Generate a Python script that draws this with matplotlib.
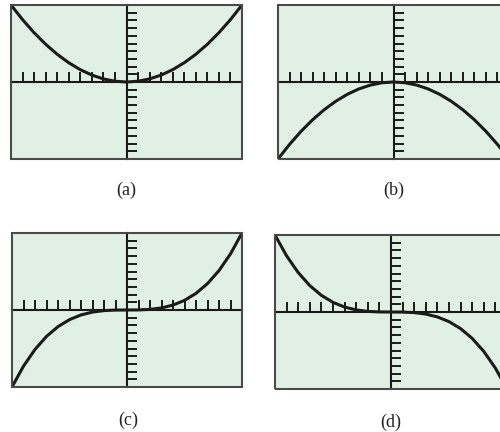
import matplotlib
matplotlib.use("Agg")
import matplotlib.pyplot as plt
from matplotlib.patches import Rectangle

# data (calculator window x, y in [-10, 10])
x_vals = [-10, -9, -8, -7, -6, -5, -4, -3, -2, -1, 0, 1, 2, 3, 4, 5, 6, 7, 8, 9, 10]
y_a = [10, 8.1, 6.4, 4.9, 3.6, 2.5, 1.6, 0.9, 0.4, 0.1, 0, 0.1, 0.4, 0.9, 1.6, 2.5, 3.6, 4.9, 6.4, 8.1, 10]
y_b = [-10, -8.1, -6.4, -4.9, -3.6, -2.5, -1.6, -0.9, -0.4, -0.1, 0, -0.1, -0.4, -0.9, -1.6, -2.5, -3.6, -4.9, -6.4, -8.1, -10]
y_c = [-10, -7.29, -5.12, -3.43, -2.16, -1.25, -0.64, -0.27, -0.08, -0.01, 0, 0.01, 0.08, 0.27, 0.64, 1.25, 2.16, 3.43, 5.12, 7.29, 10]
y_d = [10, 7.29, 5.12, 3.43, 2.16, 1.25, 0.64, 0.27, 0.08, 0.01, 0, -0.01, -0.08, -0.27, -0.64, -1.25, -2.16, -3.43, -5.12, -7.29, -10]
tick_vals = [-9, -8, -7, -6, -5, -4, -3, -2, -1, 1, 2, 3, 4, 5, 6, 7, 8, 9]
labels = ["(a)", "(b)", "(c)", "(d)"]
series = [y_a, y_b, y_c, y_d]

W, H = 500, 432
fig = plt.figure(figsize=(W / 100, H / 100), dpi=100)
fig.patch.set_facecolor("white")

# pixel boxes: left, top, right, bottom
boxes = [(11, 5, 242, 159), (278, 5, 509, 159), (12, 233, 242, 387), (275, 235, 507, 389)]
label_pos = [(126, 190), (394, 190), (128, 420), (391, 422)]

bg = "#e1f0e5"
for (l, t, r, b), ys, lab, (lx, ly) in zip(boxes, series, labels, label_pos):
    ax = fig.add_axes([l / W, 1 - b / H, (r - l) / W, (b - t) / H])
    ax.set_facecolor(bg)
    ax.set_xlim(-10, 10)
    ax.set_ylim(-10, 10)
    for s in ["top", "right"]:
        ax.spines[s].set_visible(False)
    for s in ["left", "bottom"]:
        ax.spines[s].set_position("zero")
        ax.spines[s].set_color("#1a1a1a")
        ax.spines[s].set_linewidth(1.5)
    ax.set_xticks(tick_vals)
    ax.set_yticks(tick_vals)
    ax.tick_params(axis="both", direction="in", length=7, width=1.4, color="#1a1a1a",
                   labelbottom=False, labelleft=False)
    ax.plot(x_vals, ys, color="#1a1a1a", lw=2.2, solid_capstyle="round", zorder=3)
    ax.add_patch(Rectangle((0, 0), 1, 1, transform=ax.transAxes, fill=False,
                           ec="#4a4a4a", lw=1.5, clip_on=False, zorder=5))
    fig.text(lx / W, 1 - ly / H, lab, ha="center", va="center",
             family="Liberation Serif", fontsize=13, color="#222222")

fig.savefig("out.png", dpi=100)
